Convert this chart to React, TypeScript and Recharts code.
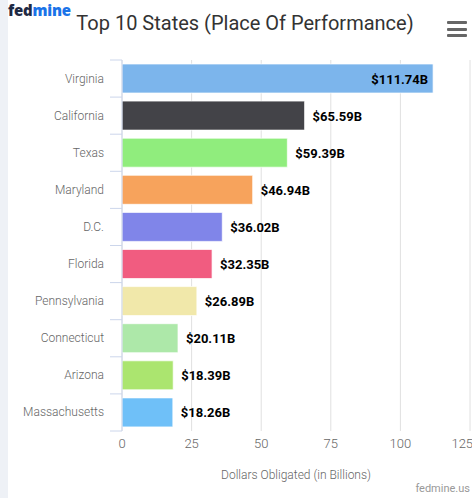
import { Bar, BarChart, CartesianGrid, Cell, LabelList, XAxis, YAxis } from 'recharts'

const states = ['Virginia', 'California', 'Texas', 'Maryland', 'D.C.', 'Florida', 'Pennsylvania', 'Connecticut', 'Arizona', 'Massachusetts']
const obligated = [111.74, 65.59, 59.39, 46.94, 36.02, 32.35, 26.89, 20.11, 18.39, 18.26]
const barColors = ['#7cb5ec', '#434348', '#90ed7d', '#f7a35c', '#8085e9', '#f15c80', '#f1e8aa', '#ade8a9', '#abe56f', '#6fc0f8']
const xTicks = [0, 25, 50, 75, 100, 125]

const rows = states.map((state, i) => ({ state, value: obligated[i] }))

const W = 472
const H = 498
const TOP = 60
const BOTTOM = 431
const BAND = (BOTTOM - TOP) / states.length
const AXIS_X = 122
const PLOT_RIGHT = 470

const font = 'Roboto, "Noto Sans", sans-serif'

function StateTick(props: any) {
  const { y, payload, index } = props
  return (
    <g>
      <text x={AXIS_X - 18} y={y} dy={4} textAnchor="end" fill="#666" fontSize={12} fontFamily={font} fontWeight={300}>
        {payload.value}
      </text>
      {index === 0 && <line x1={AXIS_X - 12} x2={AXIS_X} y1={y - BAND / 2} y2={y - BAND / 2} stroke="#ccd6eb" />}
      <line x1={AXIS_X - 12} x2={AXIS_X} y1={y + BAND / 2} y2={y + BAND / 2} stroke="#ccd6eb" />
    </g>
  )
}

function ValueLabel(props: any) {
  const { x, y, width, height, value } = props
  const text = `$${Number(value).toFixed(2)}B`
  const inside = x + width + 62 > PLOT_RIGHT
  return (
    <text
      x={inside ? x + width - 5 : x + width + 8}
      y={y + height / 2}
      dy={5}
      textAnchor={inside ? 'end' : 'start'}
      fill="#000"
      fontSize={13}
      fontWeight={700}
      fontFamily={font}
    >
      {text}
    </text>
  )
}

export default function App() {
  return (
    <div style={{ position: 'fixed', left: 0, top: 0, width: W, height: H, background: '#fff', fontFamily: font }}>
      <div style={{ position: 'absolute', left: 0, top: 0, width: 8, height: H, background: '#eef1f6' }} />
      <div style={{ position: 'absolute', left: 8, top: 1, fontSize: 15, fontWeight: 900, letterSpacing: -0.2, lineHeight: '18px', fontFamily: '"Open Sans", Roboto, sans-serif' }}>
        <span style={{ color: '#1f2a44' }}>fed</span>
        <span style={{ color: '#1a73e8' }}>mine</span>
      </div>
      <div style={{ position: 'absolute', left: 447, top: 21, width: 20 }}>
        {[0, 1, 2].map((i) => (
          <div key={i} style={{ height: 3, background: '#666', marginBottom: 3.5, borderRadius: 1 }} />
        ))}
      </div>
      <BarChart
        width={W}
        height={H}
        layout="vertical"
        data={rows}
        margin={{ top: TOP, right: W - PLOT_RIGHT, left: 0, bottom: 0 }}
        barCategoryGap={0}
      >
        <text x={245} y={23} dy={7} textAnchor="middle" fill="#333" fontSize={20} fontFamily={font}>
          Top 10 States (Place Of Performance)
        </text>
        <text x={470} y={492} textAnchor="end" fill="#999" fontSize={11} fontFamily={font}>
          fedmine.us
        </text>
        <CartesianGrid horizontal={false} stroke="#e0e0e0" />
        <XAxis
          type="number"
          domain={[0, 125]}
          ticks={xTicks}
          axisLine={false}
          tickLine={false}
          height={H - BOTTOM}
          tick={{ fill: '#666', fontSize: 13, fontFamily: font, fontWeight: 300 }}
          label={{ value: 'Dollars Obligated (in Billions)', position: 'insideBottom', offset: 19, fill: '#666', fontSize: 12, fontFamily: font, fontWeight: 300 }}
        />
        <YAxis
          type="category"
          dataKey="state"
          width={AXIS_X}
          interval={0}
          axisLine={{ stroke: '#ccd6eb' }}
          tickLine={false}
          tick={<StateTick />}
        />
        <Bar dataKey="value" barSize={29} stroke="rgba(255,255,255,0.7)" strokeWidth={1} isAnimationActive={false}>
          {rows.map((r, i) => (
            <Cell key={r.state} fill={barColors[i]} />
          ))}
          <LabelList dataKey="value" content={<ValueLabel />} />
        </Bar>
      </BarChart>
    </div>
  )
}
